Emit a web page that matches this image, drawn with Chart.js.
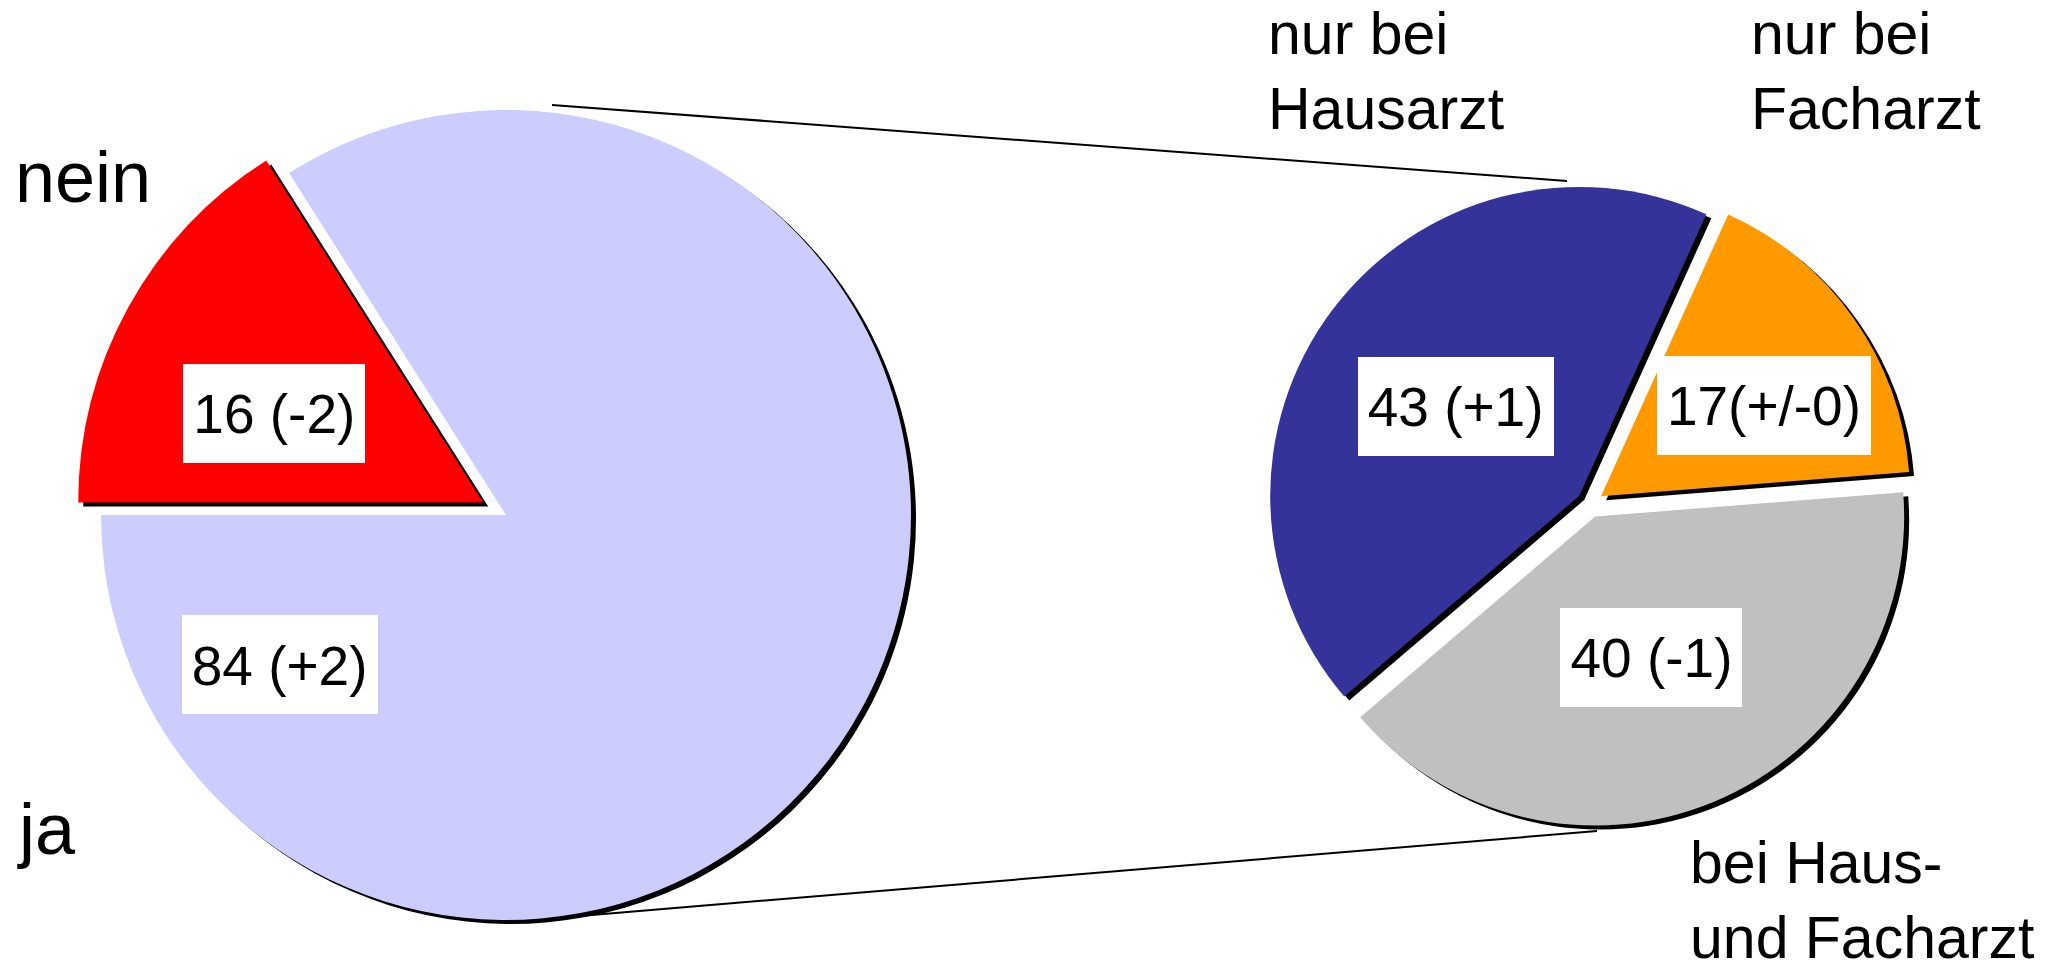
<!DOCTYPE html>
<html>
<head>
<meta charset="utf-8">
<script src="https://cdn.jsdelivr.net/npm/chart.js@4.4.1/dist/chart.umd.min.js"></script>
<style>
  html, body { margin:0; padding:0; background:#fff; overflow:hidden; }
  body { width:2072px; height:960px; position:relative; font-family:'Liberation Sans', Arial, sans-serif; }
  .pie { position:absolute; }
  .lbl { position:absolute; color:#000; white-space:pre; }
  svg { position:absolute; left:0; top:0; pointer-events:none; }
</style>
</head>
<body>
<svg width="2072" height="960">
  <line x1="552" y1="105" x2="1567" y2="181" stroke="#000" stroke-width="2"/>
  <line x1="568" y1="917" x2="1597" y2="831" stroke="#000" stroke-width="2"/>
</svg>
<div class="pie" style="left:6px;top:15px;width:1000px;height:1000px"><canvas id="leftPie"></canvas></div>
<div class="pie" style="left:1240px;top:154px;width:700px;height:700px"><canvas id="rightPie"></canvas></div>
<div id="labels"></div>
<script>
// data
const leftLabels  = ['nein', 'ja'];
const leftValues  = [16, 84];
const leftChange  = [' (-2)', ' (+2)'];

const rightLabels = ['nur bei\nHausarzt', 'nur bei\nFacharzt', 'bei Haus-\nund Facharzt'];
const rightValues = [43, 17, 40];
const rightChange = [' (+1)', '(+/-0)', ' (-1)'];

// styles
const FONT = "'Liberation Sans', Arial, sans-serif";
const leftColors  = ['#ff0000', '#ccccff'];
const rightColors = ['#333399', '#ff9900', '#c0c0c0'];
const leftExplode  = [26, 0];
const rightExplode = [13.5, 13.5, 13.5];
// box centre as fraction of radius from pie centre
const leftBoxPos  = [[-0.572, -0.251], [-0.559, 0.370]];
const rightBoxPos = [[-0.435, -0.317], [0.563, -0.320], [0.199, 0.497]];
// outside category labels: left, top, font size
const leftLblPos  = [[15, 132, 72], [19, 784, 72]];
const rightLblPos = [[1268, -3, 59], [1751, -3, 59], [1690, 826, 59]];

const shadow = {
  id:'shadow',
  beforeDatasetsDraw(chart) {
    const ctx = chart.ctx;
    ctx.save();
    ctx.shadowColor = '#000';
    ctx.shadowOffsetX = 5;
    ctx.shadowOffsetY = 4;
    ctx.shadowBlur = 0;
  },
  afterDatasetsDraw(chart) { chart.ctx.restore(); }
};

// pull slices out of the pie by a fixed number of pixels along their mid angle
const explode = {
  id:'explode',
  beforeDatasetDraw(chart, args, opts) {
    const ctx = chart.ctx;
    args.meta.data.forEach((arc, i) => {
      const mid = (arc.startAngle + arc.endAngle) / 2;
      const d = opts.dist[i] || 0;
      ctx.save();
      ctx.translate(Math.cos(mid) * d, Math.sin(mid) * d);
      arc.draw(ctx);
      ctx.restore();
    });
    return false;
  }
};

const valueBoxes = {
  id:'valueBoxes',
  afterDraw(chart, args, opts) {
    const ctx = chart.ctx;
    const arcs = chart.getDatasetMeta(0).data;
    const size = 55;
    ctx.save();
    ctx.font = size + 'px ' + FONT;
    ctx.textAlign = 'center';
    ctx.textBaseline = 'alphabetic';
    arcs.forEach((arc, i) => {
      const x = arc.x + opts.pos[i][0] * arc.outerRadius;
      const y = arc.y + opts.pos[i][1] * arc.outerRadius;
      const txt = opts.texts[i];
      const w = ctx.measureText(txt).width + 20;
      const h = 99;
      ctx.fillStyle = '#fff';
      ctx.fillRect(Math.round(x - w / 2), Math.round(y - h / 2), Math.round(w), h);
      ctx.fillStyle = '#000';
      ctx.fillText(txt, x, y + size * 0.358);
    });
    ctx.restore();
  }
};

function pieOptions(rotation, radius, boxTexts, boxPos, dist) {
  return {
    responsive:true, maintainAspectRatio:false, animation:false, events:[],
    rotation, radius,
    layout:{padding:0},
    plugins:{
      legend:{display:false}, tooltip:{enabled:false},
      explode:{dist},
      valueBoxes:{texts:boxTexts, pos:boxPos}
    }
  };
}

new Chart(document.getElementById('leftPie').getContext('2d'), {
  type:'pie',
  data:{
    labels:leftLabels,
    datasets:[{
      data:leftValues,
      backgroundColor:leftColors,
      borderWidth:0,
      clip:false
    }]
  },
  options:pieOptions(270, 405, leftValues.map((v, i) => v + leftChange[i]), leftBoxPos, leftExplode),
  plugins:[shadow, explode, valueBoxes]
});

new Chart(document.getElementById('rightPie').getContext('2d'), {
  type:'pie',
  data:{
    labels:rightLabels,
    datasets:[{
      data:rightValues,
      backgroundColor:rightColors,
      borderWidth:0,
      clip:false
    }]
  },
  options:pieOptions(229.5, 309, rightValues.map((v, i) => v + rightChange[i]), rightBoxPos, rightExplode),
  plugins:[shadow, explode, valueBoxes]
});

// category labels
const holder = document.getElementById('labels');
function addLabels(labels, pos) {
  labels.forEach((t, i) => {
    const d = document.createElement('div');
    d.className = 'lbl';
    d.textContent = t;
    const [x, y, s] = pos[i];
    d.style.left = x + 'px';
    d.style.top = y + 'px';
    d.style.fontSize = s + 'px';
    d.style.lineHeight = Math.round(s * 1.27) + 'px';
    holder.appendChild(d);
  });
}
addLabels(leftLabels, leftLblPos);
addLabels(rightLabels, rightLblPos);
</script>
</body>
</html>
